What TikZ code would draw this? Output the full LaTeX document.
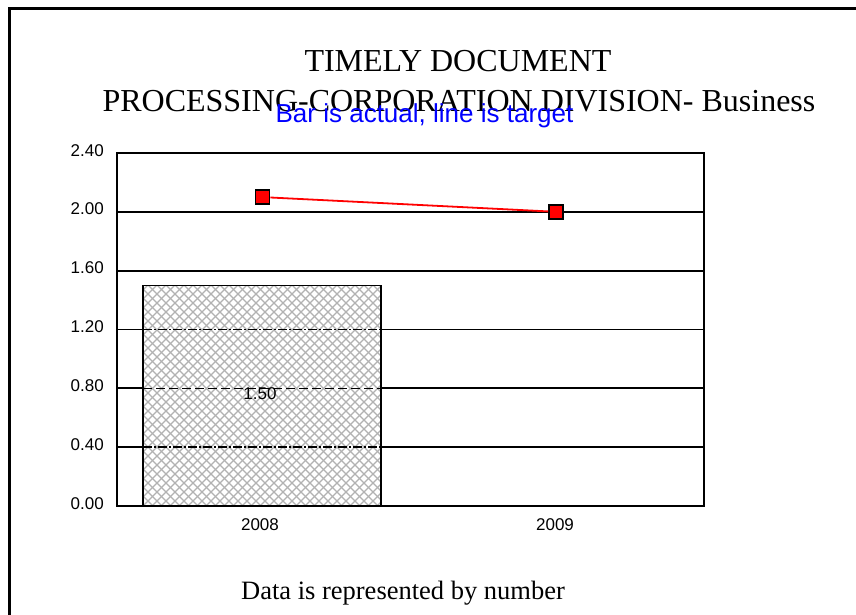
\documentclass[tikz,border=0pt]{standalone}
\usepackage{fontspec}
\setmainfont{Liberation Serif}
\newfontfamily\arialf{Liberation Sans}
\begin{document}
\begin{tikzpicture}[x=1pt,y=-1pt,
  titlef/.style={font=\fontsize{32}{38}\selectfont, inner sep=0pt},
  notef/.style={font=\fontsize{26.5}{32}\selectfont, inner sep=0pt},
  bluef/.style={font=\arialf\fontsize{26}{30}\selectfont, text=blue, inner sep=0pt},
  tickf/.style={font=\arialf\fontsize{17}{20}\selectfont, inner sep=0pt},
  grid/.style={line width=1.7pt, black},
  hatch/.style={line width=1.2pt, black!30},
  tgt/.style={draw=black, fill=red, line width=1.6pt, minimum size=14pt, inner sep=0pt},
  tline/.style={red, line width=1.8pt}]
\useasboundingbox (0,0) rectangle (856,615);
\fill[white] (0,0) rectangle (856,615);
% outer frame (cropped)
\draw[line width=3pt] (9.5,615) -- (9.5,8.5) -- (856,8.5);
% titles
\node[titlef, anchor=base] (t1) at (458,72) {TIMELY DOCUMENT};
\node[titlef, anchor=base] (t2) at (459,112) {PROCESSING-CORPORATION DIVISION- Business};
\node[bluef, anchor=base] (sub) at (424.5,123) {Bar is actual, line is target};
% gridlines
\foreach \g in {211.8,270.7,329.5,388.3,447.2} {\draw[grid] (117,\g) -- (704,\g);}
% bar
\fill[white] (143,285.4) rectangle (381,506);
\begin{scope}
\clip (143,285.4) rectangle (381,506);
\foreach \i in {-100,-91,...,390} {
  \draw[hatch] (\i,506) -- ++(240,-240);
  \draw[hatch] (\i,280) -- ++(240,240);
}
\end{scope}
\draw[line width=1.5pt, dash pattern=on 9pt off 2pt on 2pt off 2pt] (143,329.5) -- (381,329.5);
\draw[line width=1.5pt, dash pattern=on 9pt off 4pt] (143,388.3) -- (381,388.3);
\draw[line width=1.5pt, dash pattern=on 9pt off 2pt on 2pt off 2pt] (143,447.2) -- (381,447.2);
\draw[line width=1.7pt] (143,506) -- (143,285.4) -- (381,285.4) -- (381,506);
\node[tickf, anchor=base] (v1) at (260,399) {1.50};
% plot frame
\draw[line width=1.7pt] (117,153) rectangle (704,506);
% y labels
\node[tickf, anchor=base east] (y0) at (104,509) {0.00};
\node[tickf, anchor=base east] (y1) at (104,450.2) {0.40};
\node[tickf, anchor=base east] (y2) at (104,391.3) {0.80};
\node[tickf, anchor=base east] (y3) at (104,332.5) {1.20};
\node[tickf, anchor=base east] (y4) at (104,273.7) {1.60};
\node[tickf, anchor=base east] (y5) at (104,214.8) {2.00};
\node[tickf, anchor=base east] (y6) at (104,156) {2.40};
% x labels
\node[tickf, anchor=base] (x1) at (260,530) {2008};
\node[tickf, anchor=base] (x2) at (555,530) {2009};
% target line
\node[tgt] (m1) at (262.5,197.1) {};
\node[tgt] (m2) at (556,211.8) {};
\draw[tline] (m1) -- (m2);
% note
\node[notef, anchor=base] (note) at (403,599) {Data is represented by number};
\end{tikzpicture}
\end{document}
